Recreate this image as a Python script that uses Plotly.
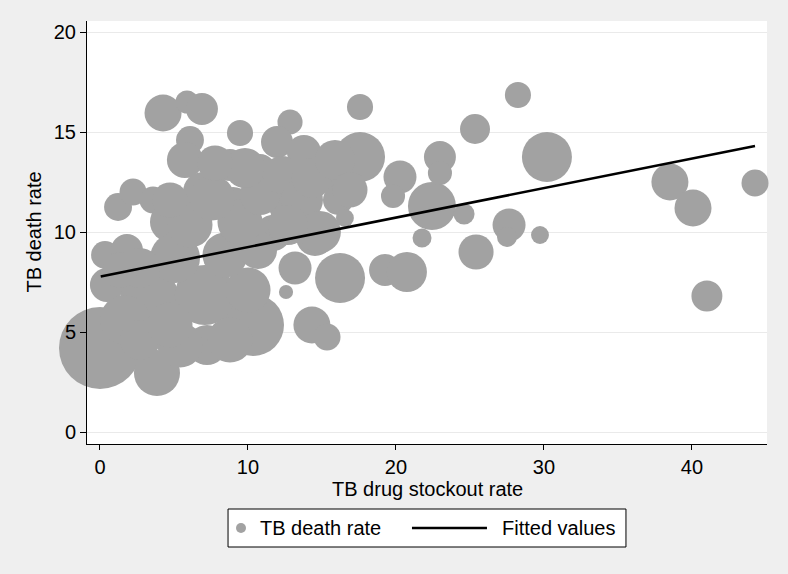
import plotly.graph_objects as go

# TB drug stockout rate (x), TB death rate (y), analytic weight (bubble area)
stockout = [0.0, 3.85, 7.23, 10.34, 0.34, 1.82, 0.47, 1.22, 2.23, 3.58,
            4.26, 5.88, 6.89, 6.08, 5.74, 6.96, 4.73, 9.46, 8.78, 10.81,
            12.84, 11.96, 13.78, 15.41, 8.99, 12.84, 11.69, 14.53, 13.18, 17.57,
            17.57, 16.08, 16.55, 20.27, 19.8, 22.43, 22.97, 22.97, 21.76, 24.6,
            19.26, 20.74, 16.22, 12.57, 14.32, 15.34, 25.34, 28.24, 30.2, 25.41,
            27.64, 27.5, 29.73, 38.51, 40.07, 44.26, 41.01,
            3.38, 7.09, 1.69, 10.0, 5.07, 8.45, 10.68, 2.7, 6.08, 9.46,
            7.57, 10.81, 4.73, 9.8, 7.77, 12.3, 13.65, 14.86, 14.32, 15.88,
            16.89, 8.78, 5.41, 12.7, 2.7, 4.73, 1.35]
death = [4.2, 2.95, 4.35, 5.35, 8.85, 9.1, 7.35, 11.25, 12.0, 11.6,
         15.95, 16.5, 16.15, 14.6, 13.6, 12.0, 10.5, 14.95, 13.35, 13.1,
         15.5, 14.5, 14.0, 13.0, 11.25, 11.45, 9.95, 9.75, 8.2, 13.75,
         16.25, 11.6, 10.7, 12.75, 11.8, 11.3, 13.75, 12.95, 9.7, 10.9,
         8.1, 8.0, 7.7, 7.0, 5.35, 4.75, 15.15, 16.85, 13.75, 9.0,
         10.35, 9.75, 9.85, 12.5, 11.2, 12.45, 6.8,
         6.6, 6.85, 5.6, 7.1, 8.7, 8.85, 9.1, 8.2, 10.35, 10.5,
         11.7, 11.85, 11.6, 13.2, 13.45, 12.85, 11.6, 10.0, 12.7, 13.6,
         12.1, 4.6, 4.35, 10.35, 4.6, 5.35, 8.1]
weight = [67.2, 21.2, 16.0, 38.4, 7.8, 10.2, 11.6, 7.8, 7.3, 7.3,
          13.7, 5.3, 10.2, 7.8, 13.0, 16.0, 16.0, 6.8, 10.2, 10.2,
          6.3, 10.2, 11.6, 13.0, 16.0, 19.4, 13.0, 14.4, 10.9, 25.0,
          6.8, 9.0, 3.2, 10.9, 5.8, 23.0, 10.2, 5.8, 3.6, 4.4,
          10.2, 16.0, 25.0, 2.0, 13.7, 7.3, 9.0, 6.8, 25.0, 12.3,
          10.9, 4.0, 3.2, 13.7, 13.7, 7.3, 9.6,
          36.0, 36.0, 25.0, 20.3, 25.0, 20.3, 14.4, 16.0, 20.3, 20.3,
          20.3, 16.0, 12.3, 16.0, 12.3, 14.4, 17.6, 17.6, 16.0, 16.0,
          12.3, 20.3, 20.3, 16.0, 16.0, 20.3, 12.3]

fit_x = [0.05, 44.26]
fit_y = [7.78, 14.3]

x_ticks = [0, 10, 20, 30, 40]
y_ticks = [0, 5, 10, 15, 20]

x_title = "TB drug stockout rate"
y_title = "TB death rate"

BUBBLE = "#a2a2a2"
FONT = "Liberation Sans, Arial, Helvetica, sans-serif"
FS = 20

fig = go.Figure()
fig.add_trace(go.Scatter(
    x=stockout, y=death, mode="markers", name="TB death rate",
    showlegend=False, cliponaxis=False,
    marker=dict(size=weight, sizemode="area", sizeref=0.02, color=BUBBLE,
                line=dict(width=0), opacity=1),
    hoverinfo="x+y",
))
fig.add_trace(go.Scatter(
    x=fit_x, y=fit_y, mode="lines", name="Fitted values", showlegend=False,
    line=dict(color="black", width=2.6), cliponaxis=False,
))

# axis titles
fig.add_annotation(text=x_title, xref="paper", yref="paper", x=0.5, y=-0.1075,
                   xanchor="center", yanchor="middle", showarrow=False,
                   font=dict(size=FS))
fig.add_annotation(text=y_title, xref="paper", yref="paper", x=-0.0794, y=0.5,
                   xanchor="center", yanchor="middle", showarrow=False,
                   textangle=-90, font=dict(size=FS))

# legend box (drawn in paper coordinates below the plot)
fig.add_shape(type="rect", xref="paper", yref="paper",
              x0=0.2074, x1=0.7926, y0=-0.2435, y1=-0.1537,
              line=dict(color="black", width=1), fillcolor="white", layer="above")
fig.add_shape(type="circle", xref="paper", yref="paper",
              x0=0.2191, x1=0.2338, y0=-0.2104, y1=-0.1868,
              line=dict(width=0), fillcolor=BUBBLE, layer="above")
fig.add_shape(type="line", xref="paper", yref="paper",
              x0=0.4779, x1=0.5882, y0=-0.1986, y1=-0.1986,
              line=dict(color="black", width=2.6), layer="above")
fig.add_annotation(text="TB death rate", xref="paper", yref="paper",
                   x=0.2515, y=-0.1986, xanchor="left", yanchor="middle",
                   showarrow=False, font=dict(size=FS))
fig.add_annotation(text="Fitted values", xref="paper", yref="paper",
                   x=0.6074, y=-0.1986, xanchor="left", yanchor="middle",
                   showarrow=False, font=dict(size=FS))

fig.update_layout(
    width=788, height=574,
    margin=dict(l=87, r=21, t=21, b=130, autoexpand=False),
    paper_bgcolor="#efefef", plot_bgcolor="white",
    font=dict(family=FONT, size=FS, color="black"),
    showlegend=False,
    xaxis=dict(range=[-0.878, 45.07], tickvals=x_ticks, ticks="outside", ticklen=5,
               tickwidth=1, tickcolor="black", showline=True, linecolor="black",
               linewidth=1, showgrid=False, zeroline=False,
               tickfont=dict(size=FS)),
    yaxis=dict(range=[-0.6, 20.55], tickvals=y_ticks, ticks="outside", ticklen=6,
               tickwidth=1, tickcolor="black", showline=True, linecolor="black",
               linewidth=1, showgrid=True, gridcolor="#eaeaea", gridwidth=1.2,
               zeroline=False, tickfont=dict(size=FS)),
)

fig.write_html("out.html", post_script="document.body.style.margin='0';",
               config={"displayModeBar": False})
